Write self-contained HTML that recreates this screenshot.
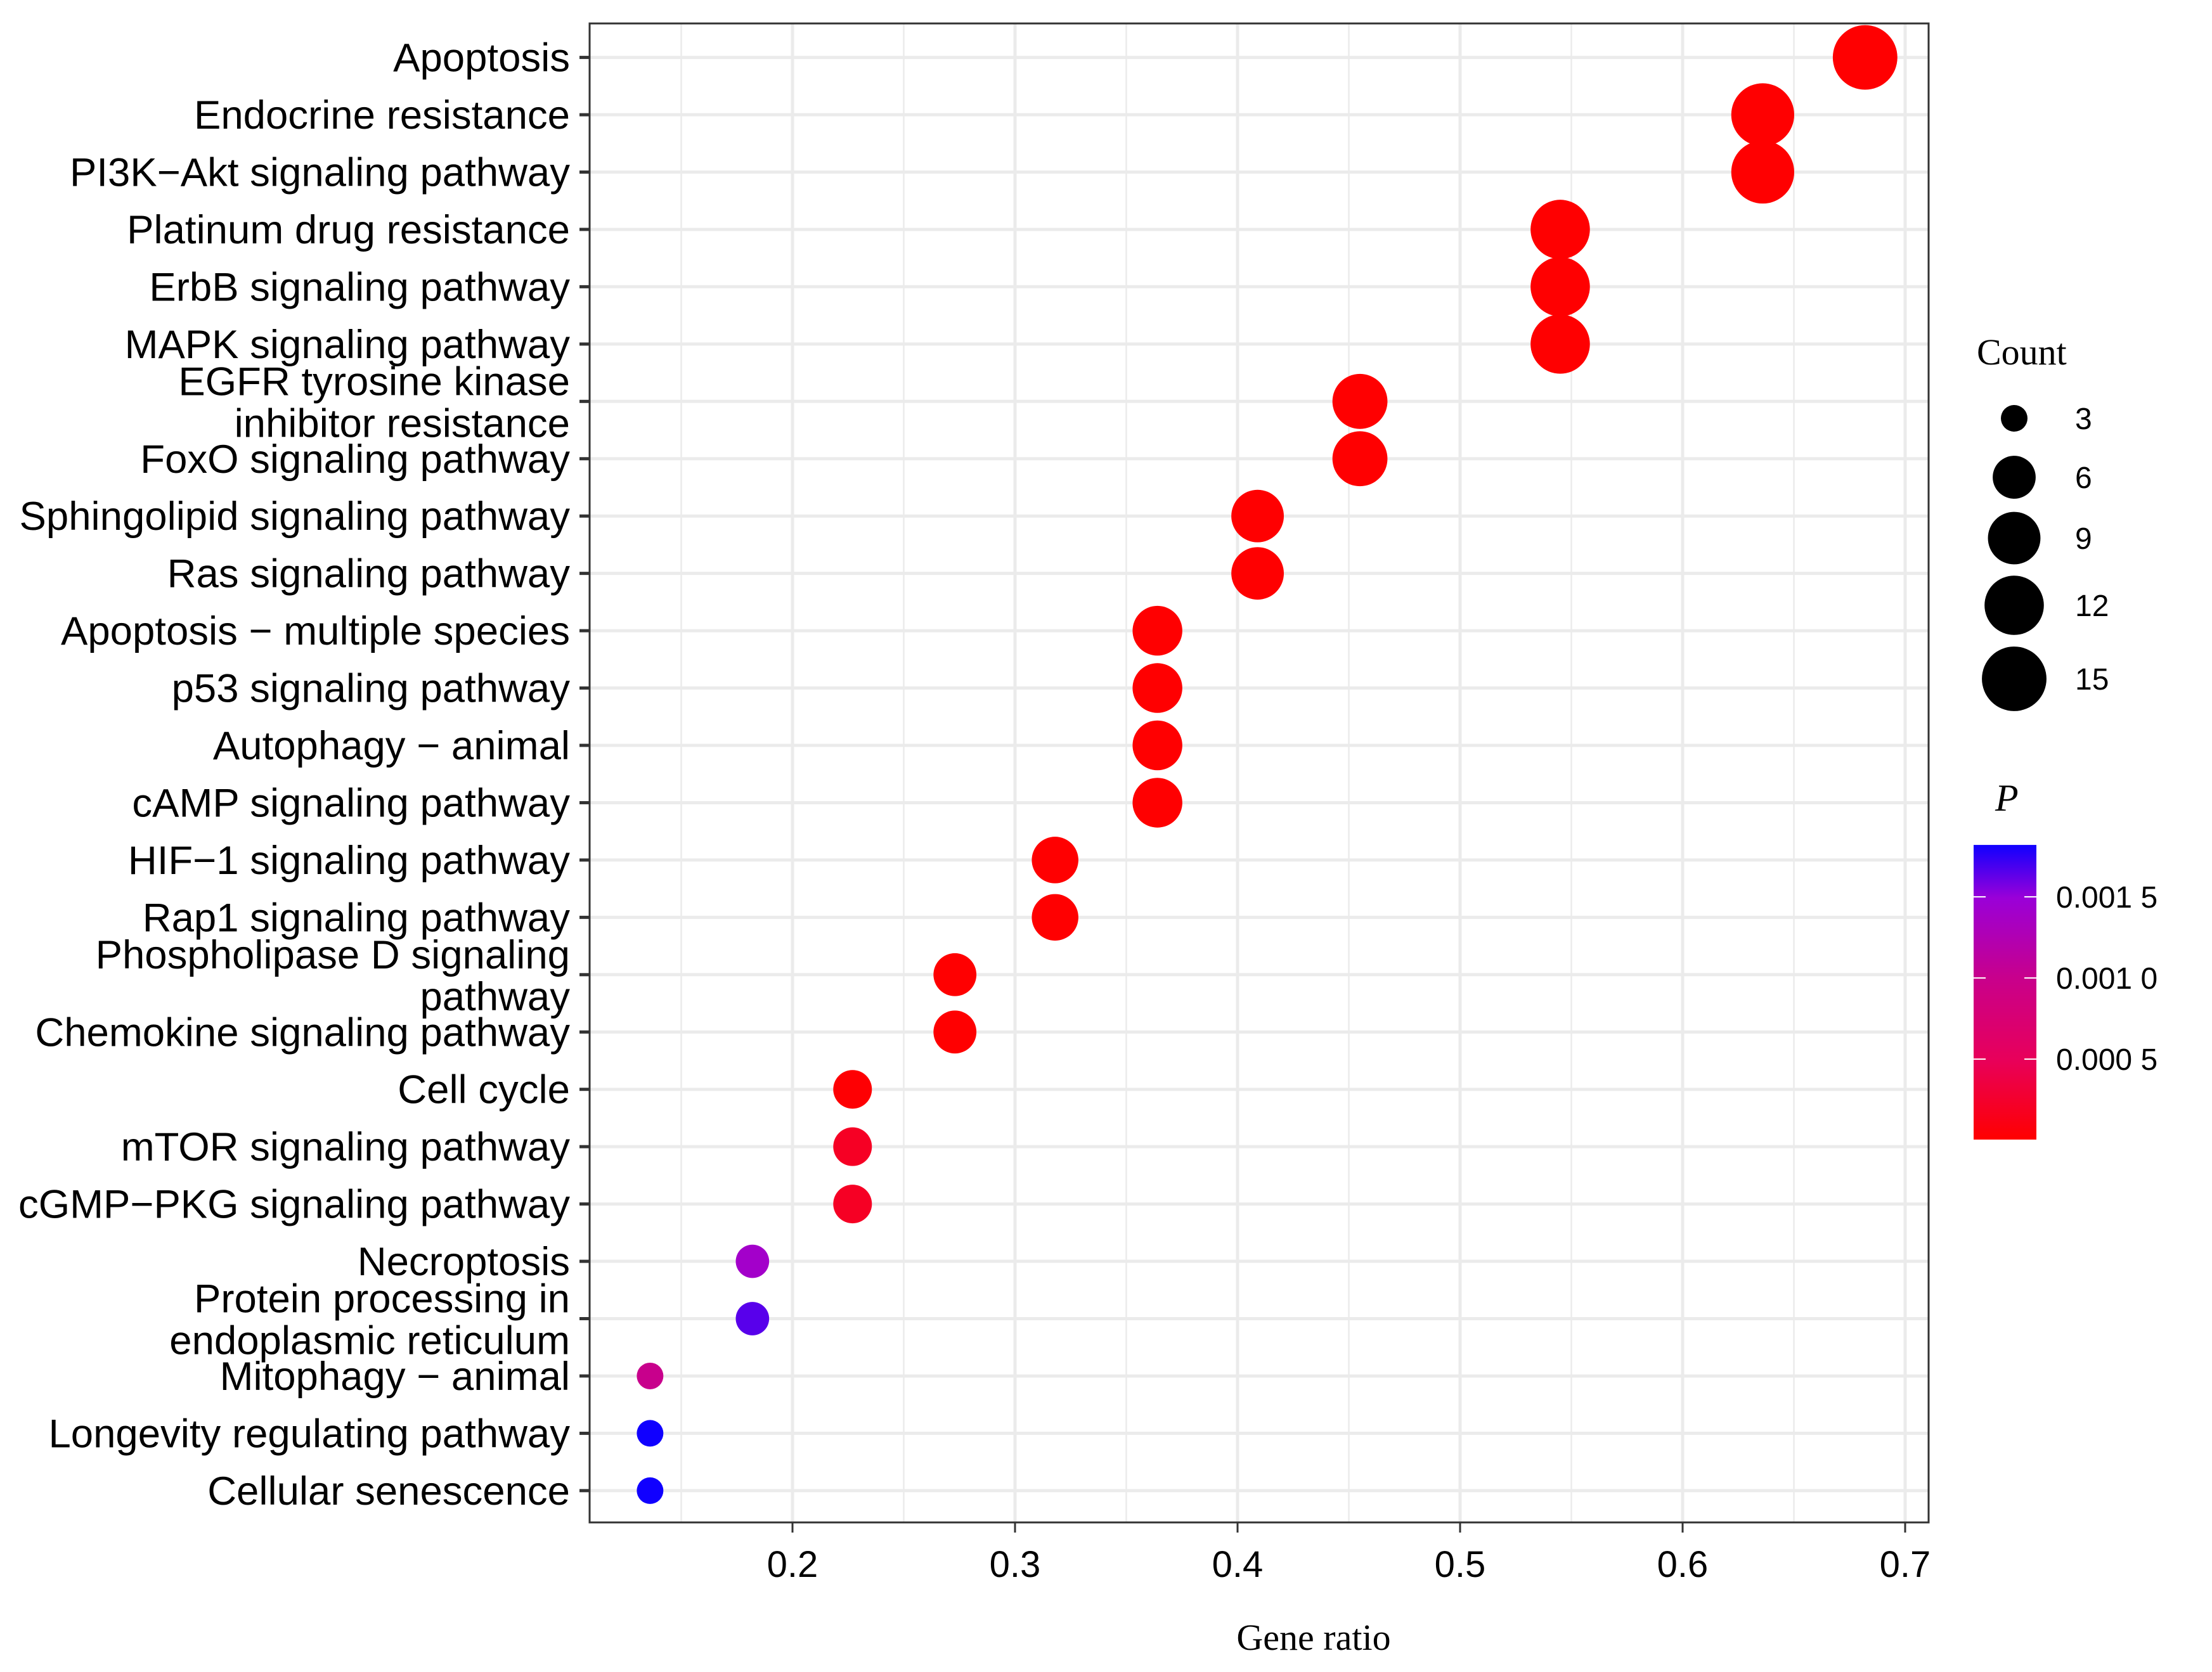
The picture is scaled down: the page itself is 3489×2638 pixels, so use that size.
<!DOCTYPE html>
<html><head><meta charset="utf-8"><title>KEGG dot plot</title>
<style>html,body{margin:0;padding:0;background:#fff;}svg{display:block;}</style></head>
<body>
<svg id="chart" width="3489" height="2638" viewBox="0 0 3489 2638" xmlns="http://www.w3.org/2000/svg">
<defs>
<linearGradient id="pgrad" x1="0" y1="1" x2="0" y2="0">
<stop offset="0" stop-color="#ff0000"/>
<stop offset="0.27" stop-color="#e8005a"/>
<stop offset="0.55" stop-color="#c8008c"/>
<stop offset="0.82" stop-color="#9a00d8"/>
<stop offset="1" stop-color="#1000ff"/>
</linearGradient>
</defs>
<g id="grid"></g>
<g id="marks"></g>
<g id="axes"></g>
<g id="legend"></g>
</svg>
<script>
const categories = ["Apoptosis","Endocrine resistance","PI3K\u2212Akt signaling pathway","Platinum drug resistance","ErbB signaling pathway","MAPK signaling pathway","EGFR tyrosine kinase|inhibitor resistance","FoxO signaling pathway","Sphingolipid signaling pathway","Ras signaling pathway","Apoptosis \u2212 multiple species","p53 signaling pathway","Autophagy \u2212 animal","cAMP signaling pathway","HIF\u22121 signaling pathway","Rap1 signaling pathway","Phospholipase D signaling|pathway","Chemokine signaling pathway","Cell cycle","mTOR signaling pathway","cGMP\u2212PKG signaling pathway","Necroptosis","Protein processing in|endoplasmic reticulum","Mitophagy \u2212 animal","Longevity regulating pathway","Cellular senescence"];
const counts = [15,14,14,12,12,12,10,10,9,9,8,8,8,8,7,7,6,6,5,5,5,4,4,3,3,3];
const geneRatio = [0.682,0.636,0.636,0.545,0.545,0.545,0.455,0.455,0.409,0.409,0.364,0.364,0.364,0.364,0.318,0.318,0.273,0.273,0.227,0.227,0.227,0.182,0.182,0.136,0.136,0.136];
const pValues = [0.00001,0.00001,0.00001,0.00001,0.00001,0.00001,0.00001,0.00001,0.00001,0.00001,0.00001,0.00001,0.00001,0.00001,0.00001,0.00001,0.00001,0.00001,0.00002,0.00020,0.00020,0.00140,0.00165,0.00100,0.00182,0.00182];
const xTicks = [0.2,0.3,0.4,0.5,0.6,0.7];
const xMinor = [0.15,0.25,0.35,0.45,0.55,0.65];
const sizeBreaks = [3,6,9,12,15];
const pBreaks = [0.0005,0.0010,0.0015];
const pLabels = ["0.000 5","0.001 0","0.001 5"];

const NS="http://www.w3.org/2000/svg";
const P={l:930,r:3042,t:37,b:2402};
const X0=0.2, XPX=1250, XS=3510;
function xs(v){return XPX+(v-X0)*XS;}
function ys(i){return 90.6+i*90.45;}
function rs(c){return 0.56+18.6*Math.log(c);}
const pMin=0.000004,pMax=0.00182;
const cstops=[[0,[255,0,0]],[0.27,[232,0,90]],[0.55,[200,0,140]],[0.82,[154,0,216]],[1,[16,0,255]]];
function col(p){let t=(p-pMin)/(pMax-pMin);t=Math.max(0,Math.min(1,t));
 for(let k=1;k<cstops.length;k++){if(t<=cstops[k][0]){const a=cstops[k-1],b=cstops[k];const u=(t-a[0])/(b[0]-a[0]);
 const c=a[1].map((v,j)=>Math.round(v+(b[1][j]-v)*u));return `rgb(${c[0]},${c[1]},${c[2]})`;}}return "rgb(16,0,255)";}
function el(tag,attrs,parent,text){const e=document.createElementNS(NS,tag);for(const k in attrs)e.setAttribute(k,attrs[k]);if(text!==undefined)e.textContent=text;parent.appendChild(e);return e;}
function pyScale(v){return 1415+(0.0015-v)/0.0005*128;}

const grid=document.getElementById('grid');
el('rect',{x:P.l,y:P.t,width:P.r-P.l,height:P.b-P.t,fill:'#fff'},grid);
xMinor.forEach(v=>{const l=el('line',{x1:xs(v),x2:xs(v),y1:P.t,y2:P.b,stroke:'#ebebeb','stroke-width':2.5},grid);

});
xTicks.forEach(v=>{const l=el('line',{x1:xs(v),x2:xs(v),y1:P.t,y2:P.b,stroke:'#ebebeb','stroke-width':5},grid);

});
categories.forEach((c,i)=>{const l=el('line',{x1:P.l,x2:P.r,y1:ys(i),y2:ys(i),stroke:'#ebebeb','stroke-width':5},grid);

});

const marks=document.getElementById('marks');
categories.forEach((c,i)=>{const d=el('circle',{cx:xs(geneRatio[i]),cy:ys(i),r:rs(counts[i]),fill:col(pValues[i])},marks);

});

const axes=document.getElementById('axes');
const border=el('rect',{x:P.l,y:P.t,width:P.r-P.l,height:P.b-P.t,fill:'none',stroke:'#333','stroke-width':3},axes);


categories.forEach((c,i)=>{const y=ys(i);
 el('line',{x1:P.l-16,x2:P.l,y1:y,y2:y,stroke:'#333','stroke-width':5},axes);
 const parts=c.split('|');
 const t=el('text',{x:899,'text-anchor':'end','font-family':'"Liberation Sans", Arial, sans-serif','font-size':63.5,fill:'#000'},axes);
 
 
 if(parts.length===1){t.setAttribute('y',y+22);t.textContent=c;}
 else{el('tspan',{x:899,y:y-10},t,parts[0]);el('tspan',{x:899,y:y+56},t,parts[1]);}
});
xTicks.forEach(v=>{el('line',{x1:xs(v),x2:xs(v),y1:P.b,y2:P.b+16,stroke:'#333','stroke-width':3},axes);
 const t=el('text',{x:xs(v),y:2488,'text-anchor':'middle','font-family':'"Liberation Sans", Arial, sans-serif','font-size':58,fill:'#000'},axes,String(v));
 
 });
const xt=el('text',{x:2072,y:2603,'text-anchor':'middle','font-family':'"Liberation Serif", serif','font-size':58,fill:'#000'},axes,'Gene ratio');



const lg=document.getElementById('legend');
const ct=el('text',{x:3118,y:575,'font-family':'"Liberation Serif", serif','font-size':58,fill:'#000'},lg,'Count');


const legY=[660,753,849,955,1071];
sizeBreaks.forEach((s,k)=>{const c=el('circle',{cx:3177,cy:legY[k],r:rs(s),fill:'#000'},lg);
 
 
 const t=el('text',{x:3273,y:legY[k]+17,'font-family':'"Liberation Sans", Arial, sans-serif','font-size':48,fill:'#000'},lg,String(s));
 
 });
const pt=el('text',{x:3147,y:1279,'font-family':'"Liberation Serif", serif','font-style':'italic','font-size':60,fill:'#000'},lg,'P');


const bar=el('rect',{x:3113,y:pyScale(pMax),width:99,height:pyScale(pMin)-pyScale(pMax),fill:'url(#pgrad)'},lg);


pBreaks.forEach((v,k)=>{const y=pyScale(v);
 el('line',{x1:3113,x2:3132,y1:y,y2:y,stroke:'#fff','stroke-width':2},lg);
 el('line',{x1:3193,x2:3212,y1:y,y2:y,stroke:'#fff','stroke-width':2},lg);
 const t=el('text',{x:3243,y:y+17,'font-family':'"Liberation Sans", Arial, sans-serif','font-size':48,fill:'#000'},lg,pLabels[k]);
 
 });
</script>
</body></html>
